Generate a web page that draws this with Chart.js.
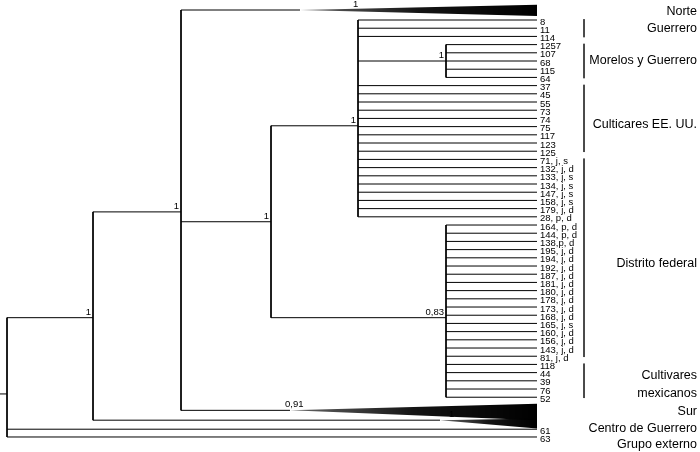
<!DOCTYPE html>
<html>
<head>
<meta charset="utf-8">
<script src="https://cdn.jsdelivr.net/npm/chart.js@4"></script>
<style>
  html, body { margin: 0; padding: 0; background: #fff; }
  #wrap { width: 700px; height: 452px; }
</style>
</head>
<body>
<div id="wrap"><canvas id="tree"></canvas></div>
<script>
// --- Tree data: leaves are rows, x is branch depth ---
const leafLabels = [
  "8", "11", "114",
  "1257", "107", "68", "115", "64",
  "37", "45", "55", "73", "74", "75", "117", "123", "125",
  "71, j, s", "132, j, d", "133, j, s", "134, j, s", "147, j, s", "158, j, s", "179, j, d", "28, p, d",
  "164, p, d", "144, p, d", "138,p, d", "195, j, d", "194, j, d", "192, j, d", "187, j, d", "181, j, d",
  "180, j, d", "178, j, d", "173, j, d", "168, j, d", "165, j, s", "160, j, d", "156, j, d", "143, j, d", "81, j, d",
  "118", "44", "39", "76", "52"
];
// parent node of each leaf (index into nodeNames)
const leafParent = [
  "D", "D", "D",
  "M", "M", "M", "M", "M",
  "D", "D", "D", "D", "D", "D", "D", "D", "D",
  "D", "D", "D", "D", "D", "D", "D", "D",
  "E", "E", "E", "E", "E", "E", "E", "E", "E", "E", "E", "E", "E", "E", "E", "E", "E",
  "E", "E", "E", "E", "E"
];
const tipDepth = 537;

// internal nodes
const nodeNames   = ["root", "A",  "B",  "C",  "D",  "M",  "E"];
const nodeDepth   = [7,      93,   181,  271,  358,  446,  446];
const nodeRow     = [45.6,   36.3, 23.4, 24.6, 12.9, 5,    36.3];
const nodeParent  = [null,   "root", "A", "B", "C",  "D",  "C"];
const nodeSupport = ["",     "1",  "1",  "1",  "1",  "1",  "0,83"];

// extra single taxa hanging off the root
const outLabels = ["61", "63"];
const outRows = [49.9, 50.85];

// collapsed clades (wedges)
const wedgeNames   = ["Norte", "Sur", "Centro"];
const wedgeParent  = ["B", "B", "A"];
const wedgeRow     = [-1.22, 47.6, 48.8];
const wedgeStart   = [300, 290, 440];
const wedgeTop     = [-1.85, 46.8, 48.6];
const wedgeBottom  = [-0.5, 48.8, 49.8];
const wedgeSupport = ["1", "0,91", "1"];
const wedgeSupportX = [353, 285, 449];

// clade groups on the right
const groupNames = ["Norte", "Guerrero", "Morelos y Guerrero", "Culticares EE. UU.", "Distrito federal", "Cultivares\nmexicanos", "Sur", "Centro de Guerrero", "Grupo externo"];
const groupRowTop = [null, 0, 3, 8, 17, 42, null, null, null];
const groupRowEnd = [null, 2, 7, 16, 41, 46, null, null, null];
const groupLabelRow = [-1, 1, 5, 12.8, 29.7, 44.4, 47.7, 49.8, 51.8];

// --- build segments ---
const idx = n => nodeNames.indexOf(n);
const segs = [];
function seg(x1, y1, x2, y2) { segs.push({ x: x1, y: y1 }, { x: x2, y: y2 }, { x: x2, y: null }); }

const childRows = nodeNames.map(() => []);
leafLabels.forEach((l, i) => {
  const p = idx(leafParent[i]);
  childRows[p].push(i);
  seg(nodeDepth[p], i, tipDepth, i);
});
nodeNames.forEach((n, i) => {
  if (nodeParent[i] === null) return;
  const p = idx(nodeParent[i]);
  childRows[p].push(nodeRow[i]);
  seg(nodeDepth[p], nodeRow[i], nodeDepth[i], nodeRow[i]);
});
wedgeNames.forEach((w, i) => {
  const p = idx(wedgeParent[i]);
  childRows[p].push(wedgeRow[i]);
  seg(nodeDepth[p], wedgeRow[i], wedgeStart[i], wedgeRow[i]);
});
outRows.forEach(r => { childRows[0].push(r); seg(nodeDepth[0], r, tipDepth, r); });
// vertical bars
nodeNames.forEach((n, i) => {
  const rows = childRows[i].concat([nodeRow[i]]);
  seg(nodeDepth[i], Math.min(...rows), nodeDepth[i], Math.max(...rows));
});
// stub left of root
seg(0, nodeRow[0], nodeDepth[0], nodeRow[0]);

// group brackets (separate thin grey dataset)
const brackets = [];
groupNames.forEach((g, i) => {
  if (groupRowTop[i] === null) return;
  brackets.push({ x: 584, y: groupRowTop[i] - 0.1 }, { x: 584, y: groupRowEnd[i] + 0.1 }, { x: 584, y: null });
});

function wedgeFill(ctx, i) {
  const chart = ctx.chart;
  const xs = chart.scales.x;
  if (!xs || !chart.chartArea) return "#000";
  const x0 = xs.getPixelForValue(wedgeStart[i]), x1 = xs.getPixelForValue(tipDepth);
  if (!isFinite(x0) || !isFinite(x1) || x0 === x1) return "#000";
  const g = chart.ctx.createLinearGradient(x0, 0, x1, 0);
  g.addColorStop(0, "rgba(0,0,0,0.6)");
  g.addColorStop(0.5, "rgba(0,0,0,0.92)");
  g.addColorStop(1, "#000");
  return g;
}

const datasets = [{
  data: segs,
  borderColor: "#000",
  borderWidth: 1,
  pointRadius: 0,
  spanGaps: false,
  fill: false,
  tension: 0
}, {
  data: brackets,
  borderColor: "#333",
  borderWidth: 1,
  pointRadius: 0,
  spanGaps: false,
  fill: false
}];
wedgeNames.forEach((w, i) => {
  datasets.push({
    data: [
      { x: wedgeStart[i], y: wedgeRow[i] },
      { x: tipDepth, y: wedgeTop[i] },
      { x: tipDepth, y: wedgeBottom[i] },
      { x: wedgeStart[i], y: wedgeRow[i] }
    ],
    borderWidth: 0,
    borderColor: "rgba(0,0,0,0)",
    backgroundColor: ctx => wedgeFill(ctx, i),
    pointRadius: 0,
    fill: "shape",
    tension: 0
  });
});

const textPlugin = {
  id: "treeText",
  afterDatasetsDraw(chart) {
    const c = chart.ctx, xs = chart.scales.x, ys = chart.scales.y;
    const X = v => xs.getPixelForValue(v), Y = v => ys.getPixelForValue(v);
    c.save();
    c.fillStyle = "#000";
    c.font = "9.5px 'Liberation Sans', Arial, sans-serif";
    c.textAlign = "left";
    c.textBaseline = "middle";
    leafLabels.forEach((l, i) => c.fillText(l, X(tipDepth) + 3, Y(i) + 2));
    outLabels.forEach((l, i) => c.fillText(l, X(tipDepth) + 3, Y(outRows[i]) + 2));
    // supports
    c.textAlign = "right";
    c.textBaseline = "bottom";
    nodeNames.forEach((n, i) => {
      if (!nodeSupport[i]) return;
      c.fillText(nodeSupport[i], X(nodeDepth[i]) - 2, Y(nodeRow[i]) - 1);
    });
    c.textAlign = "left";
    wedgeNames.forEach((w, i) => c.fillText(wedgeSupport[i], X(wedgeSupportX[i]), Y(wedgeRow[i]) - 1));
    // group names
    c.font = "12.5px 'Liberation Sans', Arial, sans-serif";
    c.textAlign = "right";
    c.textBaseline = "middle";
    groupNames.forEach((g, i) => {
      const lines = g.split("\n");
      lines.forEach((ln, k) => c.fillText(ln, 697, Y(groupLabelRow[i]) + (k - (lines.length - 1) / 2) * 18));
    });
    c.restore();
  }
};

new Chart(document.getElementById("tree"), {
  type: "line",
  data: { datasets },
  plugins: [textPlugin],
  options: {
    responsive: true,
    maintainAspectRatio: false,
    animation: false,
    layout: { padding: 0 },
    plugins: { legend: { display: false }, tooltip: { enabled: false } },
    scales: {
      x: { type: "linear", min: 0, max: 700, display: false },
      y: { type: "linear", min: -2.44, max: 52.68, reverse: true, display: false }
    }
  }
});
</script>
</body>
</html>
